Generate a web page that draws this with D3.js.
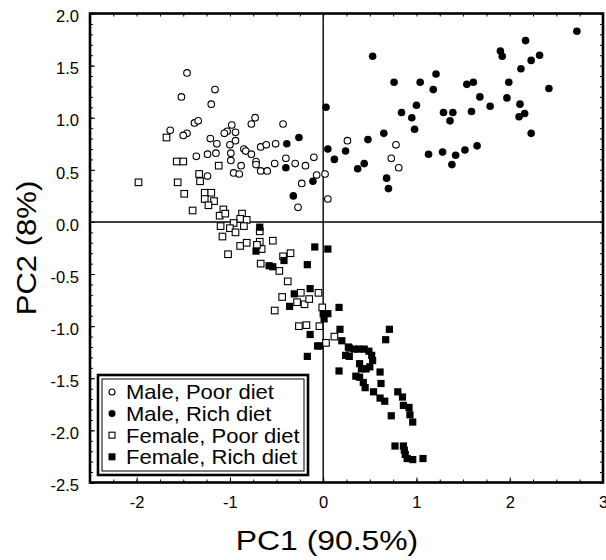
<!DOCTYPE html>
<html><head><meta charset="utf-8">
<script src="https://cdn.jsdelivr.net/npm/d3@7"></script>
<style>
html,body{margin:0;padding:0;background:#fff;}
svg text{font-family:"Liberation Sans",Arial,sans-serif;fill:#000;}
</style></head>
<body><div id="chart"></div>
<script>
const maleRich = [[2.72,1.83],[2.17,1.74],[0.53,1.59],[1.90,1.64],[1.92,1.59],[2.32,1.60],[2.23,1.55],[2.12,1.47],[1.21,1.42],[0.76,1.34],[1.04,1.34],[1.18,1.27],[1.54,1.32],[1.61,1.34],[1.99,1.34],[2.42,1.28],[1.68,1.20],[1.97,1.19],[1.00,1.12],[2.11,1.13],[1.79,1.11],[0.84,1.05],[1.29,1.05],[1.39,1.05],[1.59,1.06],[0.95,1.00],[1.36,0.97],[2.10,1.01],[2.16,1.04],[0.98,0.89],[2.23,0.85],[0.65,0.85],[0.48,0.79],[1.65,0.73],[1.52,0.69],[1.42,0.64],[1.28,0.67],[1.13,0.65],[1.38,0.55],[0.24,0.68],[0.12,0.60],[0.05,0.70],[0.44,0.56],[0.37,0.51],[0.68,0.42],[0.70,0.32],[0.03,1.10],[-0.26,0.81],[-0.39,0.75],[-0.40,0.52],[-0.11,0.39],[-0.32,0.25]];
const malePoor = [[-1.46,1.43],[-1.16,1.27],[-1.52,1.20],[-1.20,1.13],[-0.73,1.00],[-0.77,0.94],[-0.43,0.94],[-1.38,0.95],[-1.34,0.97],[-1.64,0.88],[-1.46,0.85],[-1.50,0.83],[-0.98,0.93],[-1.03,0.87],[-0.94,0.86],[-1.06,0.85],[-1.21,0.80],[-1.14,0.75],[-0.94,0.78],[-1.00,0.74],[-0.85,0.70],[-0.83,0.68],[-0.77,0.65],[-0.67,0.72],[-0.61,0.74],[-0.51,0.75],[0.26,0.78],[-1.36,0.63],[-1.24,0.65],[-1.15,0.66],[-0.99,0.66],[-0.99,0.59],[-0.72,0.58],[-0.72,0.55],[-0.88,0.54],[-0.96,0.47],[-0.90,0.46],[-0.67,0.49],[-0.60,0.49],[-0.52,0.56],[-0.40,0.61],[-0.30,0.56],[-0.19,0.54],[-0.10,0.62],[-0.07,0.45],[0.02,0.46],[-1.24,0.44],[-0.23,0.37],[0.05,0.22],[-0.27,0.14],[0.78,0.74],[0.73,0.61],[0.81,0.52]];
const femalePoor = [[-1.68,0.81],[-1.57,0.58],[-1.50,0.58],[-1.12,0.54],[-1.98,0.38],[-1.56,0.38],[-1.33,0.46],[-1.32,0.39],[-1.49,0.27],[-1.27,0.28],[-1.20,0.28],[-1.27,0.22],[-1.17,0.20],[-1.23,0.16],[-1.40,0.11],[-1.07,0.12],[-1.11,0.06],[-1.05,0.08],[-0.87,0.08],[-0.89,0.03],[-0.82,0.02],[-0.96,-0.01],[-1.10,-0.04],[-0.85,-0.04],[-1.00,-0.06],[-0.94,-0.10],[-1.08,-0.14],[-0.89,-0.23],[-0.82,-0.20],[-0.68,-0.19],[-0.66,-0.26],[-0.71,-0.22],[-0.54,-0.18],[-1.02,-0.31],[-0.43,-0.33],[-0.35,-0.30],[-0.67,-0.40],[-0.47,-0.47],[-0.38,-0.57],[-0.44,-0.72],[-0.24,-0.68],[-0.28,-0.77],[-0.20,-0.79],[-0.15,-0.74],[-0.05,-0.68],[-0.52,-0.85],[-0.01,-0.82],[-0.26,-1.00],[-0.18,-0.99],[-0.04,-1.00],[0.12,-1.10],[0.03,-1.16],[-0.68,-0.09]];
const femaleRich = [[-0.68,-0.05],[-0.72,-0.28],[-0.42,-0.37],[-0.58,-0.42],[-0.54,-0.43],[-0.09,-0.24],[0.05,-0.26],[-0.17,-0.41],[-0.14,-0.64],[-0.31,-0.69],[-0.36,-0.81],[0.17,-0.82],[0.00,-0.88],[0.05,-0.88],[0.01,-0.93],[0.18,-1.03],[0.20,-1.14],[-0.14,-1.08],[-0.06,-1.19],[-0.04,-1.19],[0.27,-1.20],[-0.17,-1.29],[0.71,-1.03],[0.67,-1.13],[0.28,-1.21],[0.33,-1.22],[0.38,-1.22],[0.44,-1.22],[0.49,-1.24],[0.24,-1.28],[0.28,-1.29],[0.52,-1.28],[0.53,-1.33],[0.50,-1.39],[0.39,-1.36],[0.41,-1.41],[0.46,-1.41],[0.17,-1.43],[0.61,-1.44],[0.35,-1.48],[0.39,-1.49],[0.43,-1.54],[0.45,-1.59],[0.62,-1.55],[0.54,-1.63],[0.61,-1.69],[0.66,-1.72],[0.80,-1.63],[0.85,-1.68],[0.86,-1.76],[0.92,-1.78],[0.73,-1.86],[0.93,-1.85],[0.96,-1.92],[0.77,-2.15],[0.86,-2.15],[0.87,-2.19],[0.88,-2.23],[0.90,-2.27],[0.96,-2.28],[1.07,-2.27]];

const seriesNames = ["Male, Poor diet","Male, Rich diet","Female, Poor diet","Female, Rich diet"];
const xTicks = [-2,-1,0,1,2,3];
const yTicks = [-2.5,-2.0,-1.5,-1.0,-0.5,0.0,0.5,1.0,1.5,2.0];
const xMinorTicks = d3.range(-2.5,3.001,0.25);
const yMinorTicks = d3.range(-2.5,2.001,0.1);
const xTitle = "PC1 (90.5%)";
const yTitle = "PC2 (8%)";

const W=606,H=560;
const L=90,R=603,T=13.5,B=482.5;
const x=d3.scaleLinear().domain([-2.5,3]).range([L,R]);
const y=d3.scaleLinear().domain([-2.5,2]).range([B,T]);

const svg=d3.select("#chart").append("svg").attr("width",W).attr("height",H);

// minor ticks (inside, all four sides)
function minor(axisFn, scale, vals, tr){
  const g=svg.append("g").attr("transform",tr).call(axisFn(scale).tickValues(vals).tickSizeInner(-3).tickSizeOuter(0).tickFormat(""));
  g.select(".domain").remove();
  g.selectAll("line").attr("stroke","#000").attr("stroke-width",1);
}
minor(d3.axisBottom,x,xMinorTicks,`translate(0,${B})`);
minor(d3.axisTop,x,xMinorTicks,`translate(0,${T})`);
minor(d3.axisLeft,y,yMinorTicks,`translate(${L},0)`);
minor(d3.axisRight,y,yMinorTicks,`translate(${R},0)`);

// major axes
const gx=svg.append("g").attr("transform",`translate(0,${B})`)
  .call(d3.axisBottom(x).tickValues(xTicks).tickSizeInner(-5).tickSizeOuter(0).tickPadding(14).tickFormat(d3.format("d")));
gx.select(".domain").remove();
gx.selectAll("line").attr("stroke","#000");
gx.selectAll("text").attr("font-size",16.5).attr("font-family","Liberation Sans, Arial, sans-serif").text(d=>d<0?"-"+Math.abs(d):d);

const gy=svg.append("g").attr("transform",`translate(${L},0)`)
  .call(d3.axisLeft(y).tickValues(yTicks).tickSizeInner(-5).tickSizeOuter(0).tickPadding(11).tickFormat(d=>(d<0?"-":"")+Math.abs(d).toFixed(1)));
gy.select(".domain").remove();
gy.selectAll("line").attr("stroke","#000");
gy.selectAll("text").attr("font-size",16.5).attr("font-family","Liberation Sans, Arial, sans-serif").attr("dy","0.5em");

// zero lines
svg.append("line").attr("x1",x(0)).attr("x2",x(0)).attr("y1",T).attr("y2",B).attr("stroke","#000").attr("stroke-width",1.4);
svg.append("line").attr("x1",L).attr("x2",R).attr("y1",y(0)).attr("y2",y(0)).attr("stroke","#000").attr("stroke-width",1.4);

// frame
svg.append("rect").attr("x",L).attr("y",T).attr("width",R-L).attr("height",B-T)
  .attr("fill","none").attr("stroke","#000").attr("stroke-width",2.6);

// points
const sym = {
  circOpen: (g,data)=>g.selectAll("circle").data(data).join("circle").attr("cx",d=>x(d[0])).attr("cy",d=>y(d[1])).attr("r",3.3).attr("fill","#fff").attr("stroke","#000").attr("stroke-width",1.1),
  circFill: (g,data)=>g.selectAll("circle").data(data).join("circle").attr("cx",d=>x(d[0])).attr("cy",d=>y(d[1])).attr("r",3.8).attr("fill","#000"),
  sqOpen: (g,data)=>g.selectAll("rect").data(data).join("rect").attr("x",d=>x(d[0])-3.3).attr("y",d=>y(d[1])-3.3).attr("width",6.6).attr("height",6.6).attr("fill","#fff").attr("stroke","#000").attr("stroke-width",1.1),
  sqFill: (g,data)=>g.selectAll("rect").data(data).join("rect").attr("x",d=>x(d[0])-3.6).attr("y",d=>y(d[1])-3.6).attr("width",7.2).attr("height",7.2).attr("fill","#000")
};
sym.circOpen(svg.append("g"),malePoor);
sym.sqOpen(svg.append("g"),femalePoor);
sym.circFill(svg.append("g"),maleRich);
sym.sqFill(svg.append("g"),femaleRich);

// legend
const lg=svg.append("g");
lg.append("rect").attr("x",98).attr("y",375).attr("width",210).attr("height",100).attr("fill","#fff").attr("stroke","#000").attr("stroke-width",2.6);
lg.append("rect").attr("x",102).attr("y",379).attr("width",202).attr("height",92).attr("fill","none").attr("stroke","#000").attr("stroke-width",1);
const kinds=["circOpen","circFill","sqOpen","sqFill"];
seriesNames.forEach((name,i)=>{
  const cy=392+i*21.6;
  const k=kinds[i];
  if(k==="circOpen") lg.append("circle").attr("cx",112).attr("cy",cy).attr("r",3).attr("fill","#fff").attr("stroke","#000").attr("stroke-width",1.1);
  if(k==="circFill") lg.append("circle").attr("cx",112).attr("cy",cy).attr("r",3.5).attr("fill","#000");
  if(k==="sqOpen") lg.append("rect").attr("x",109).attr("y",cy-3).attr("width",6).attr("height",6).attr("fill","#fff").attr("stroke","#000").attr("stroke-width",1.1);
  if(k==="sqFill") lg.append("rect").attr("x",108.5).attr("y",cy-3.5).attr("width",7).attr("height",7).attr("fill","#000");
  lg.append("text").attr("transform",`translate(126,${cy+7.3}) scale(1.1,1)`).attr("font-size",20).text(name);
});

// titles
svg.append("text").attr("transform","translate(327,550) scale(1.18,1)").attr("text-anchor","middle").attr("font-size",27).text(xTitle);
svg.append("text").attr("transform",`translate(36,${(T+B)/2}) rotate(-90) scale(1.15,1)`).attr("text-anchor","middle").attr("font-size",27).text(yTitle);
</script></body></html>
